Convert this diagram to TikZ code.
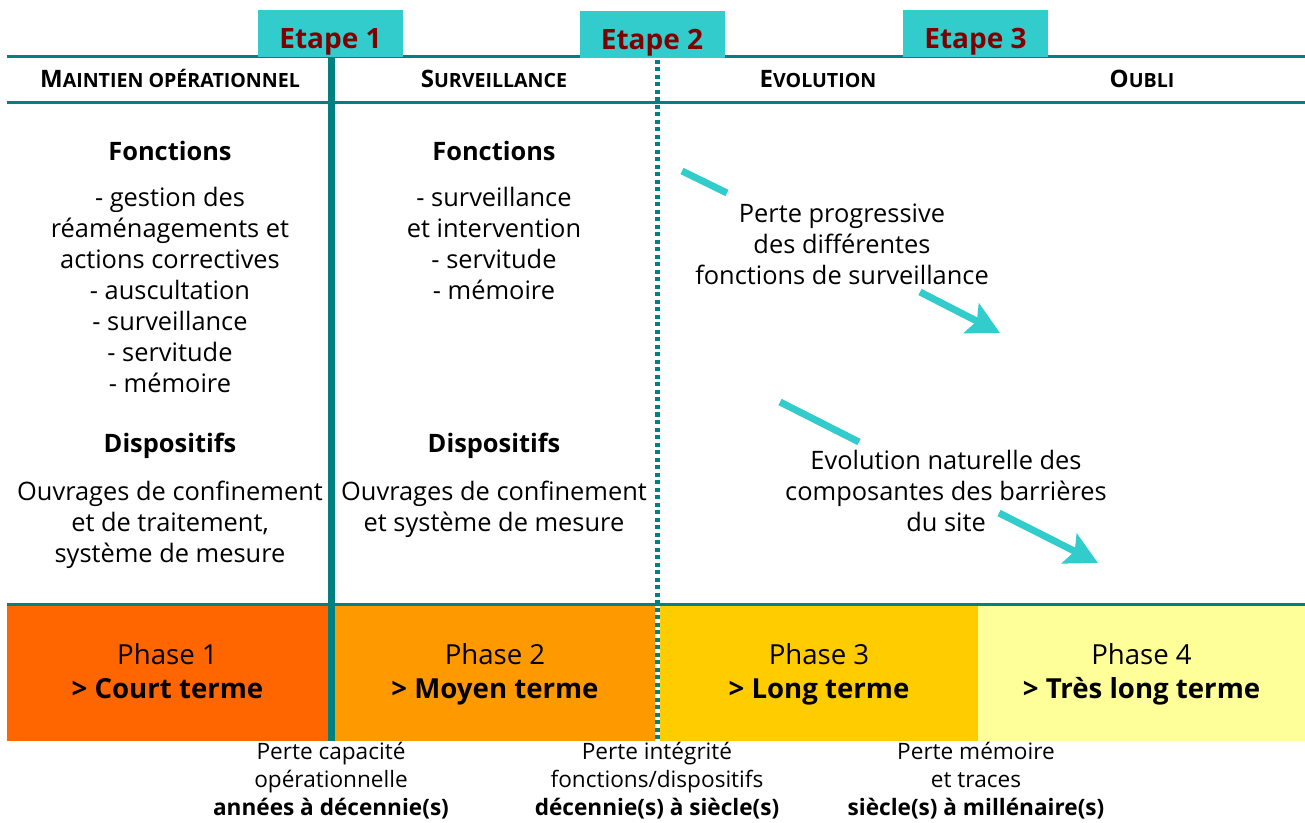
\documentclass[tikz,border=0pt]{standalone}
\usepackage{fontspec}
\setmainfont{Open Sans}
\usetikzlibrary{arrows.meta}
\definecolor{tealline}{HTML}{008080}
\definecolor{etapebg}{HTML}{33CCCC}
\definecolor{etapetxt}{HTML}{800000}
\definecolor{ph1}{HTML}{FF6600}
\definecolor{ph2}{HTML}{FF9900}
\definecolor{ph3}{HTML}{FFCC00}
\definecolor{ph4}{HTML}{FFFF99}
\newcommand\pcap[2]{{\fontsize{12}{14}\selectfont #1}{\fontsize{9.8}{12}\selectfont #2}}
\newcommand\phase[2]{\rule{0pt}{12pt}Phase #1\\\textbf{> #2}\vphantom{g}}
\tikzset{
    rule/.style={draw=tealline, line width=1.5pt},
    etape/.style={
        fill=etapebg, text=etapetxt, anchor=south,
        font=\bfseries\fontsize{14}{16}\selectfont,
        minimum width=72.5pt, inner ysep=0pt,
        text height=19.5pt, text depth=4pt
    },
    colhead/.style={font=\bfseries, anchor=base, inner sep=0pt},
    titre/.style={font=\bfseries\fontsize{12.7}{15.5}\selectfont, anchor=north, inner sep=0pt},
    corps/.style={font=\fontsize{12.7}{15.5}\selectfont, align=center, anchor=north, inner sep=0pt},
    phasebox/.style={
        font=\fontsize{13.8}{17}\selectfont, align=center,
        inner sep=0pt, minimum height=68pt
    },
    seuil/.style={font=\fontsize{11.3}{14}\selectfont, align=center, anchor=north, inner sep=0pt},
    fleche/.style={draw=etapebg, line width=3.5pt},
    tip/.style={-{Stealth[length=16pt,width=16.5pt,inset=3pt]}}
}

\begin{document}
\begin{tikzpicture}[x=0.5pt,y=-0.5pt]
    \useasboundingbox (0,0) rectangle (1305,823);

    % bandeau des phases
    \node[phasebox, fill=ph1, minimum width=160.5pt] (p1) at (167.5,672.5) {\phase{1}{Court terme}};
    \node[phasebox, fill=ph2, minimum width=160pt] (p2) at (495,672.5) {\phase{2}{Moyen terme}};
    \node[phasebox, fill=ph3, minimum width=159pt] (p3) at (819,672.5) {\phase{3}{Long terme}};
    \node[phasebox, fill=ph4, minimum width=163.5pt] (p4) at (1141.5,672.5) {\phase{4}{Très long terme}};

    % filets
    \draw[rule] (7,57) -- (1305,57);
    \draw[rule] (7,103) -- (1305,103);
    \draw[rule] (7,604) -- (1305,604);
    \draw[rule, line width=3.5pt] (331.5,57) -- (331.5,741);
    \draw[rule, line width=2.5pt, dash pattern=on 2pt off 1.75pt] (657.5,60) -- (657.5,741);

    % etapes
    \node[etape] (e1) at (330.5,57) {Etape 1};
    \node[etape] (e2) at (652,58) {Etape 2};
    \node[etape] (e3) at (975.5,57) {Etape 3};

    % en-tetes
    \node[colhead] (h1) at (170,88) {\pcap{M}{AINTIEN OPÉRATIONNEL}};
    \node[colhead] (h2) at (494,88) {\pcap{S}{URVEILLANCE}};
    \node[colhead] (h3) at (818,88) {\pcap{E}{VOLUTION}};
    \node[colhead] (h4) at (1142,88) {\pcap{O}{UBLI}};

    % colonne 1
    \node[titre] (f1) at (170,141) {Fonctions};
    \node[corps] (l1) at (170,187) {- gestion des\\réaménagements et\\actions correctives\\- auscultation\\- surveillance\\- servitude\\- mémoire};
    \node[titre] (d1) at (170,433) {Dispositifs};
    \node[corps] (o1) at (170,481) {Ouvrages de confinement\\et de traitement,\\système de mesure};

    % colonne 2
    \node[titre] (f2) at (494,141) {Fonctions};
    \node[corps] (l2) at (494,187) {- surveillance\\et intervention\\- servitude\\- mémoire};
    \node[titre] (d2) at (494,433) {Dispositifs};
    \node[corps] (o2) at (494,481) {Ouvrages de confinement\\et système de mesure};

    % fleches
    \node[corps] (t1) at (842,203) {Perte progressive\\des différentes\\fonctions de surveillance};
    \coordinate (a1s) at (682,171);
    \coordinate (a1m) at (727,193);
    \coordinate (a1n) at (920,292);
    \coordinate (a1e) at (1000,333);
    \draw[fleche] (a1s) -- (a1m);
    \draw[fleche, tip] (a1n) -- (a1e);

    \node[corps] (t2) at (946,450) {Evolution naturelle des\\composantes des barrières\\du site};
    \coordinate (a2s) at (780,402);
    \coordinate (a2m) at (859,442);
    \coordinate (a2n) at (999,513);
    \coordinate (a2e) at (1098,563);
    \draw[fleche] (a2s) -- (a2m);
    \draw[fleche, tip] (a2n) -- (a2e);

    % seuils
    \node[seuil] (s1) at (331,742) {Perte capacité\\opérationnelle\\\textbf{années à décennie(s)}};
    \node[seuil] (s2) at (657,742) {Perte intégrité\\fonctions/dispositifs\\\textbf{décennie(s) à siècle(s)}};
    \node[seuil] (s3) at (976,742) {Perte mémoire\\et traces\\\textbf{siècle(s) à millénaire(s)}};
\end{tikzpicture}
\end{document}
